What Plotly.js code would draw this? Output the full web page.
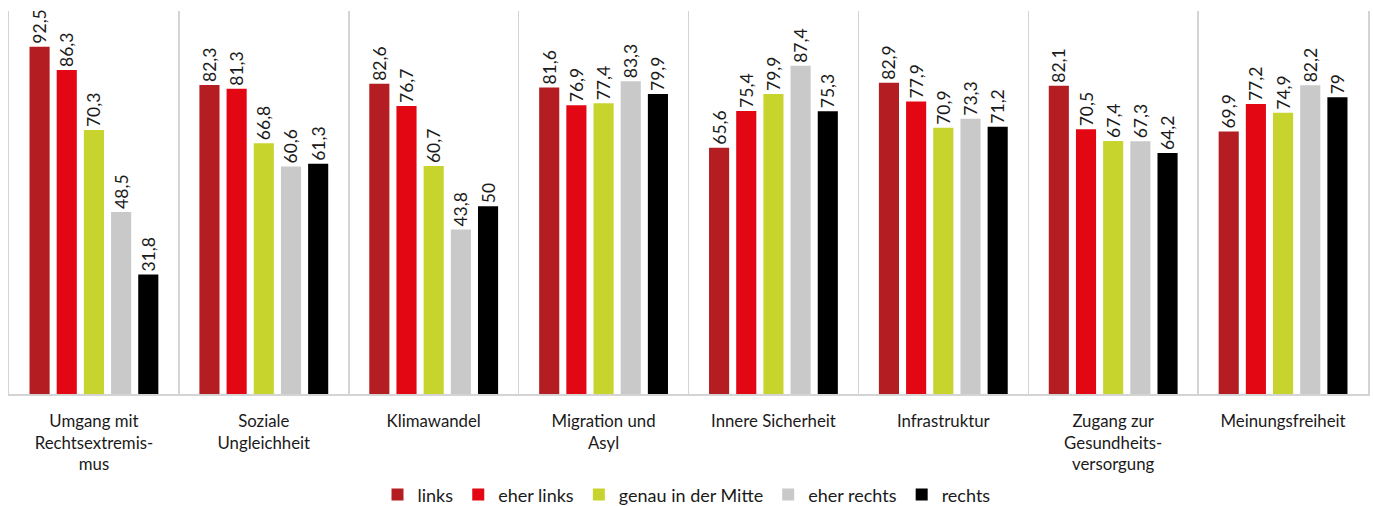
<!DOCTYPE html>
<html>
<head>
<meta charset="utf-8">
<script src="https://cdn.plot.ly/plotly-3.0.1.min.js"></script>
<style>
  html, body { margin: 0; padding: 0; background: #fff; }
  #chart { width: 1373px; height: 506px; }
</style>
</head>
<body>
<div id="chart"></div>
<script>
  // Kategorien (Themen) und Gruppen (politische Selbstverortung)
  const categories = [
    "Umgang mit<br>Rechtsextremis-<br>mus",
    "Soziale<br>Ungleichheit",
    "Klimawandel",
    "Migration und<br>Asyl",
    "Innere Sicherheit",
    "Infrastruktur",
    "Zugang zur<br>Gesundheits-<br>versorgung",
    "Meinungsfreiheit"
  ];
  const seriesNames = ["links", "eher links", "genau in der Mitte", "eher rechts", "rechts"];
  const seriesColors = ["#B41E23", "#E30613", "#C8D42E", "#C9C9C9", "#000000"];

  const links       = [92.5, 82.3, 82.6, 81.6, 65.6, 82.9, 82.1, 69.9];
  const eherLinks   = [86.3, 81.3, 76.7, 76.9, 75.4, 77.9, 70.5, 77.2];
  const mitte       = [70.3, 66.8, 60.7, 77.4, 79.9, 70.9, 67.4, 74.9];
  const eherRechts  = [48.5, 60.6, 43.8, 83.3, 87.4, 73.3, 67.3, 82.2];
  const rechts      = [31.8, 61.3, 50.0, 79.9, 75.3, 71.2, 64.2, 79.0];
  const seriesValues = [links, eherLinks, mitte, eherRechts, rechts];

  const FONT = "Lato, 'Open Sans', sans-serif";
  const fmt = (v) => String(v).replace(".", ",");

  const traces = seriesValues.map((vals, i) => ({
    type: "bar",
    name: seriesNames[i],
    x: categories,
    y: vals,
    text: vals.map(fmt),
    textposition: "outside",
    textangle: -90,
    cliponaxis: false,
    constraintext: "none",
    textfont: { family: FONT, size: 17.5, color: "#1a1a1a" },
    marker: { color: seriesColors[i] },
    hoverinfo: "x+y+name"
  }));

  const layout = {
    width: 1373,
    height: 506,
    paper_bgcolor: "#fff",
    plot_bgcolor: "#fff",
    font: { family: FONT, color: "#1a1a1a" },
    margin: { l: 9, r: 5, t: 11, b: 112, autoexpand: false },
    barmode: "group",
    bargap: 0.2,
    bargroupgap: 0.26,
    showlegend: true,
    legend: {
      orientation: "h",
      xref: "container", yref: "container",
      x: 0.5, xanchor: "center",
      y: 0.022, yanchor: "middle",
      font: { family: FONT, size: 18, color: "#1a1a1a" },
      itemwidth: 30,
      traceorder: "normal"
    },
    xaxis: {
      type: "category",
      tickson: "boundaries",
      showgrid: true,
      gridcolor: "#D4D4D4",
      gridwidth: 1.5,
      showline: true,
      linecolor: "#D4D4D4",
      linewidth: 1.5,
      ticks: "",
      ticklabelstandoff: 11,
      tickfont: { family: FONT, size: 16.8, color: "#1a1a1a" },
      automargin: false
    },
    yaxis: {
      range: [0, 102],
      showgrid: false,
      zeroline: false,
      showticklabels: false,
      showline: true,
      mirror: true,
      linecolor: "#D4D4D4",
      linewidth: 1.5,
      ticks: ""
    }
  };

  Plotly.newPlot("chart", traces, layout, { displayModeBar: false, staticPlot: true });
</script>
</body>
</html>
